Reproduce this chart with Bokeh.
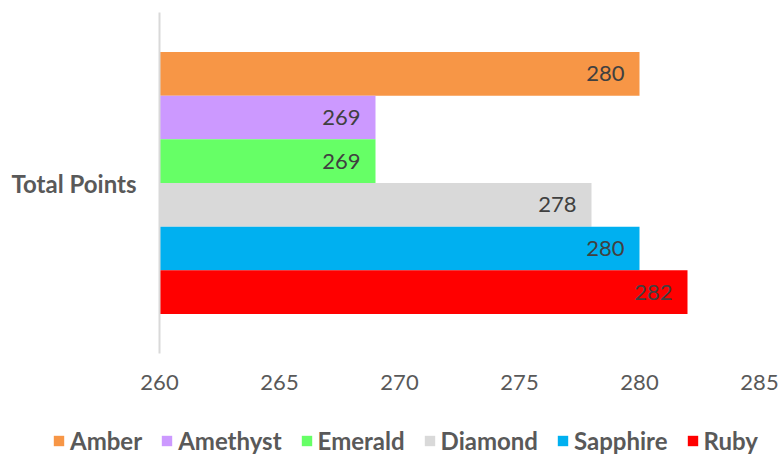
from bokeh.plotting import figure
from bokeh.models import ColumnDataSource, Range1d, FactorRange, Legend, FixedTicker
from bokeh.transform import dodge
from bokeh.core.properties import value
from bokeh.layouts import column
from bokeh.embed import file_html
from bokeh.resources import INLINE

categories = ["Total Points"]
series = ["Amber", "Amethyst", "Emerald", "Diamond", "Sapphire", "Ruby"]
values = [280, 269, 269, 278, 280, 282]
colors = ["#F79646", "#CC99FF", "#66FF66", "#D9D9D9", "#00B0F0", "#FF0000"]
x_ticks = [260, 265, 270, 275, 280, 285]

FONT = "Lato"
bar_h = 0.128

p = figure(frame_width=600, frame_height=341, output_backend="svg", toolbar_location=None,
           y_range=FactorRange(*categories), x_range=Range1d(x_ticks[0], x_ticks[-1]),
           min_border_left=159, min_border_right=22, min_border_top=12, min_border_bottom=45)
p.frame_align = False
p.outline_line_color = None
p.xgrid.grid_line_color = None
p.ygrid.grid_line_color = None

n = len(series)
for i, (name, v, c) in enumerate(zip(series, values, colors)):
    off = ((n - 1) / 2 - i) * bar_h
    src = ColumnDataSource(dict(cat=categories, val=[v], label=[str(v)]))
    p.hbar(y=dodge("cat", off, range=p.y_range), left=x_ticks[0], right="val",
           height=bar_h, fill_color=c, line_color=None, source=src)
    p.text(x="val", y=dodge("cat", off, range=p.y_range), text="label", source=src,
           text_align="right", text_baseline="middle", x_offset=-15,
           text_font=value(FONT), text_font_size="22px", text_color="#404040")

xa = p.xaxis[0]
xa.ticker = FixedTicker(ticks=x_ticks)
xa.axis_line_color = None
xa.major_tick_line_color = None
xa.minor_tick_line_color = None
xa.major_label_standoff = 15
xa.major_label_text_font = FONT
xa.major_label_text_font_size = "22px"
xa.major_label_text_color = "#595959"

ya = p.yaxis[0]
ya.axis_line_color = "#D9D9D9"
ya.axis_line_width = 2
ya.major_tick_line_color = None
ya.minor_tick_line_color = None
ya.major_label_standoff = 17
ya.major_label_text_font = FONT
ya.major_label_text_font_style = "bold"
ya.major_label_text_font_size = "24px"
ya.major_label_text_color = "#595959"

# legend strip below the chart (swatch renderers sit outside its visible range)
lf = figure(width=781, height=57, output_backend="svg", toolbar_location=None,
            x_range=Range1d(0, 1), y_range=Range1d(0, 1),
            min_border_left=0, min_border_right=0, min_border_top=0, min_border_bottom=0)
lf.frame_align = False
lf.axis.visible = False
lf.grid.grid_line_color = None
lf.outline_line_color = None
items = []
for name, c in zip(series, colors):
    r = lf.hbar(y=[-5], right=[-4], left=-5, height=0.1, fill_color=c, line_color=None)
    items.append((name, [r]))

legend = Legend(items=items, orientation="horizontal", location=(52, 0),
                glyph_width=13, glyph_height=13, label_standoff=5, spacing=18,
                padding=0, margin=0, border_line_color=None, background_fill_alpha=0,
                label_text_font=FONT, label_text_font_style="bold",
                label_text_font_size="24px", label_text_color="#595959")
lf.add_layout(legend, "center")

open("out.html", "w").write(file_html(column(p, lf, spacing=0), INLINE))
